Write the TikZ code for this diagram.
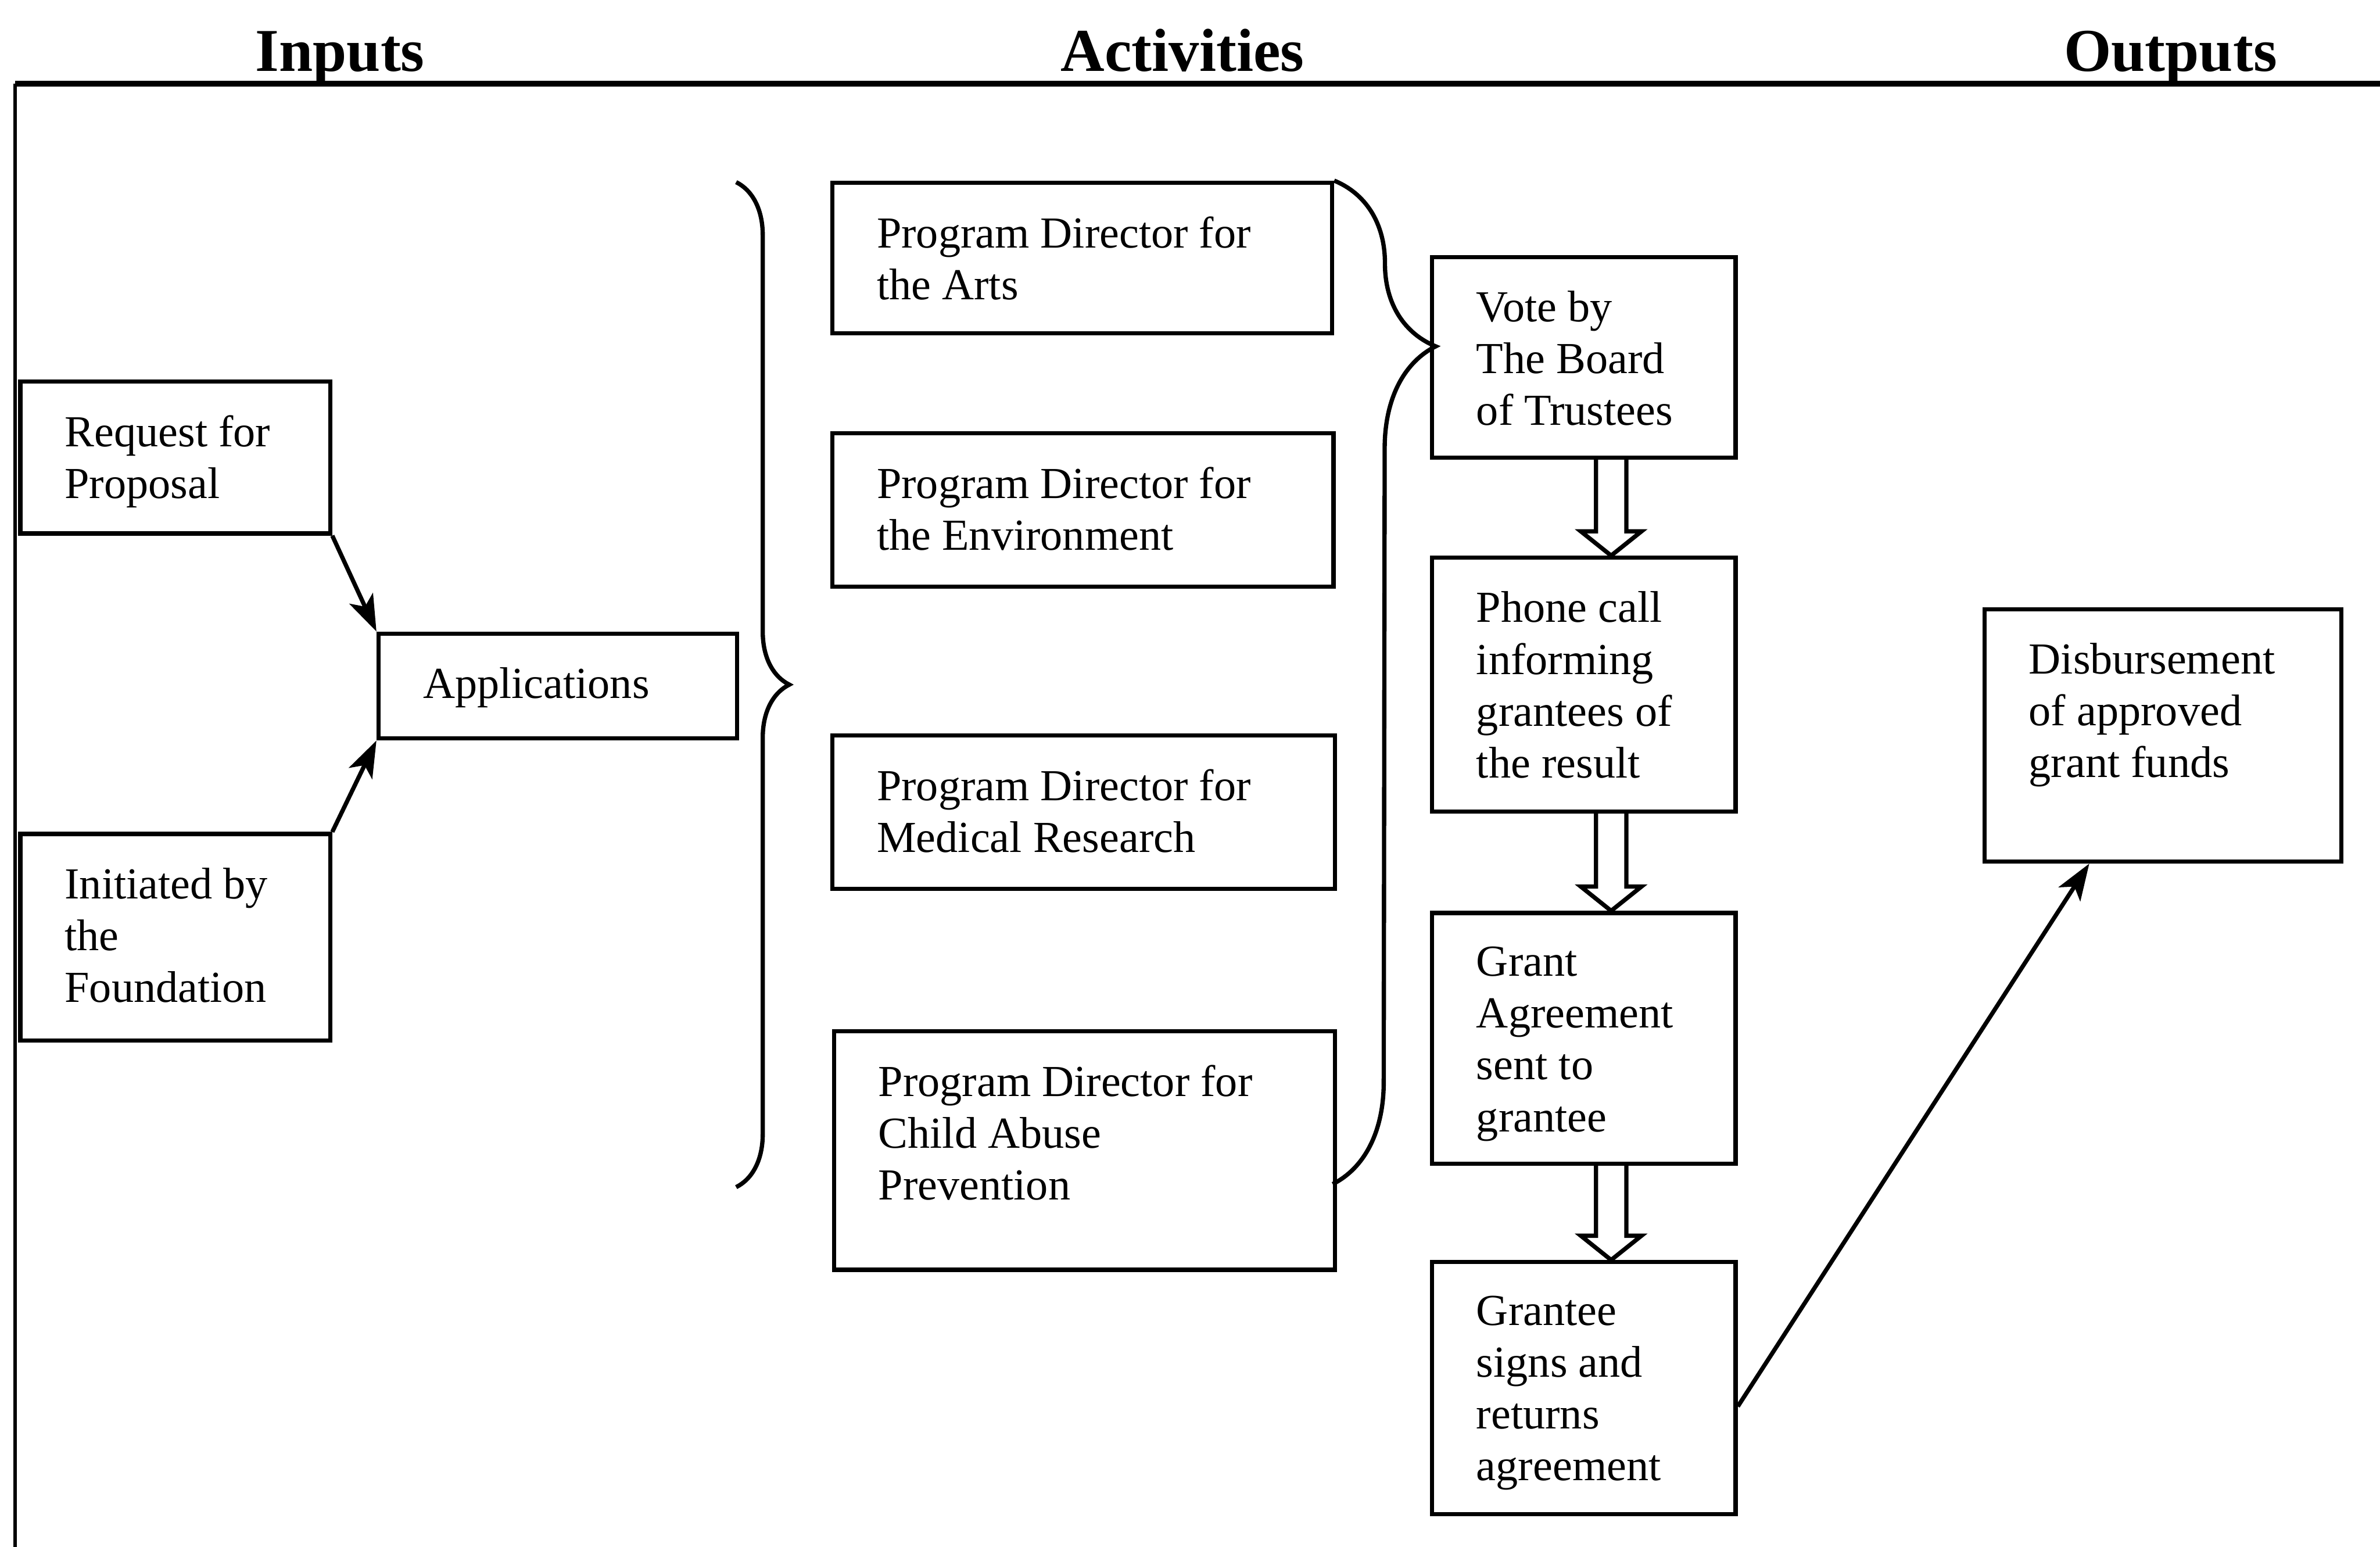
\documentclass[tikz,border=0pt]{standalone}
\usepackage{fontspec}
\setmainfont{Liberation Serif}
\usetikzlibrary{arrows.meta,calc,decorations.pathreplacing}

\begin{document}
\begin{tikzpicture}[x=0.01cm, y=-0.01cm,
	box/.style={draw, line width=0.8pt, anchor=north west, inner sep=0pt},
	txt/.style={anchor=north west, align=left, inner sep=0pt, xshift=0.3cm, yshift=-0.23cm,
		font=\fontsize{8.3}{9.7}\selectfont},
	head/.style={anchor=base, font=\fontsize{11.4}{13}\selectfont\bfseries},
	arr/.style={-{Stealth[length=2.4mm,width=1.7mm,inset=0.6mm]}, line width=0.8pt},
	brc/.style={decorate, line width=0.8pt},
	hollow/.style={line width=0.8pt, line join=miter}]
	\useasboundingbox (0,0) rectangle (1568,1019);

	\node[head] (inputs) at (224,47) {Inputs};
	\node[head] (activities) at (779,47) {Activities};
	\node[head] (outputs) at (1430,47) {Outputs};
	\draw[line width=1.1pt] (1568,55) -- (10,55);
	\draw[line width=0.6pt] (10,55) -- (10,1019);

	\node[box, minimum width=2.04cm, minimum height=1.00cm, label={[txt]north west:Request for\\Proposal}] (req) at (12,250) {};
	\node[box, minimum width=2.04cm, minimum height=1.36cm, label={[txt]north west:Initiated by\\the\\Foundation}] (init) at (12,548) {};
	\node[box, minimum width=2.36cm, minimum height=0.69cm, label={[txt]north west:Applications}] (app) at (248,416) {};

	\node[box, minimum width=3.29cm, minimum height=0.99cm, label={[txt]north west:Program Director for\\the Arts}] (arts) at (547,119) {};
	\node[box, minimum width=3.30cm, minimum height=1.01cm, label={[txt]north west:Program Director for\\the Environment}] (env) at (547,284) {};
	\node[box, minimum width=3.31cm, minimum height=1.01cm, label={[txt]north west:Program Director for\\Medical Research}] (med) at (547,483) {};
	\node[box, minimum width=3.30cm, minimum height=1.57cm, label={[txt]north west:Program Director for\\Child Abuse\\Prevention}] (child) at (548,678) {};

	\node[box, minimum width=2.00cm, minimum height=1.32cm, label={[txt]north west:Vote by\\The Board\\of Trustees}] (vote) at (942,168) {};
	\node[box, minimum width=2.00cm, minimum height=1.67cm, label={[txt]north west:Phone call\\informing\\grantees of\\the result}] (phone) at (942,366) {};
	\node[box, minimum width=2.00cm, minimum height=1.65cm, label={[txt]north west:Grant\\Agreement\\sent to\\grantee}] (agree) at (942,600) {};
	\node[box, minimum width=2.00cm, minimum height=1.66cm, label={[txt]north west:Grantee\\signs and\\returns\\agreement}] (sign) at (942,830) {};

	\node[box, minimum width=2.35cm, minimum height=1.66cm, label={[txt]north west:Disbursement\\of approved\\grant funds}] (disb) at (1306,400) {};

	\draw[arr] (req.south east) -- (app.north west);
	\draw[arr] (init.north east) -- (app.south west);

	\draw[brc, decoration={brace, amplitude=0.35cm}] (485,120) -- (485,782);
	\draw[brc, decoration={brace, amplitude=0.67cm, aspect=0.165}] (arts.north east) -- (878,780);

	\foreach \a/\b in {vote/phone, phone/agree, agree/sign}
		\draw[hollow] ($(\a.south)+(8,0)$) -- ($(\b.north)+(8,-16)$) -- ($(\b.north)+(-2,-16)$) -- ($(\b.north)+(18,0)$)
			-- ($(\b.north)+(38,-16)$) -- ($(\b.north)+(28,-16)$) -- ($(\a.south)+(28,0)$);

	\draw[arr] ([yshift=-0.12cm]sign.east) -- ([xshift=-0.485cm]disb.south);
\end{tikzpicture}
\end{document}
